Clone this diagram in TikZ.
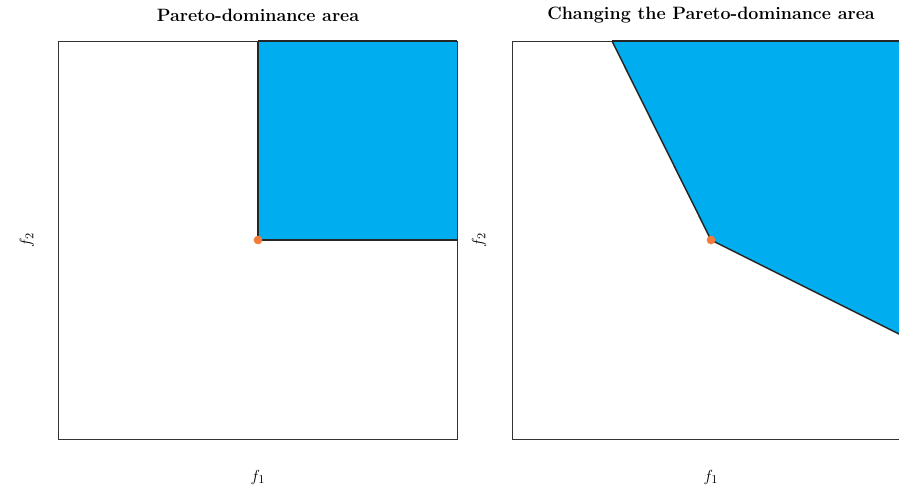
\documentclass[tikz,border=0pt]{standalone}
\usepackage{xcolor}
\definecolor{areablue}{HTML}{00ADEF}
\definecolor{ptorange}{HTML}{F47C3A}
\definecolor{framegray}{HTML}{333333}
\begin{document}
\begin{tikzpicture}[x=0.75pt,y=-0.75pt,
  frame/.style={draw=framegray,line width=0.6pt},
  ttl/.style={font=\fontsize{13.4}{16}\selectfont\bfseries,anchor=center},
  axlab/.style={font=\fontsize{13}{15}\selectfont,anchor=center},
  dot/.style={circle,fill=ptorange,inner sep=0pt,minimum size=6.5pt}]
\clip (0,0) rectangle (899,489);
\useasboundingbox (0,0) rectangle (899,489);
\fill[white] (0,0) rectangle (899,489);
% left panel
\coordinate (lbl) at (58,439);
\coordinate (ltr) at (457,41);
\fill[areablue] (258,41) rectangle (457,240);
\draw[black!85,line width=1.1pt] (258,41) -- (258,240) -- (457,240);
\draw[frame] (lbl) rectangle (ltr);
\draw[black!85,line width=1.1pt] (258,41) -- (457,41);
\node[dot] (p1) at (258,240) {};
\node[ttl] (t1) at (258,15.5) {Pareto-dominance area};
\node[axlab] (x1) at (258,477) {$f_1$};
\node[axlab,rotate=90] (y1) at (27,240) {$f_2$};
% right panel
\coordinate (rbl) at (512,439);
\coordinate (rtr) at (911,41);
\fill[areablue] (612,41) -- (711,240) -- (911,340) -- (911,41) -- cycle;
\draw[frame] (rbl) rectangle (rtr);
\draw[black!85,line width=1.1pt] (612,41) -- (711,240) -- (911,340);
\draw[black!85,line width=1.1pt] (612,41) -- (911,41);
\node[dot] (p2) at (711,240) {};
\node[ttl] (t2) at (711,15.5) {Changing the Pareto-dominance area};
\node[axlab] (x2) at (711,477) {$f_1$};
\node[axlab,rotate=90] (y2) at (479,240) {$f_2$};
\end{tikzpicture}
\end{document}
